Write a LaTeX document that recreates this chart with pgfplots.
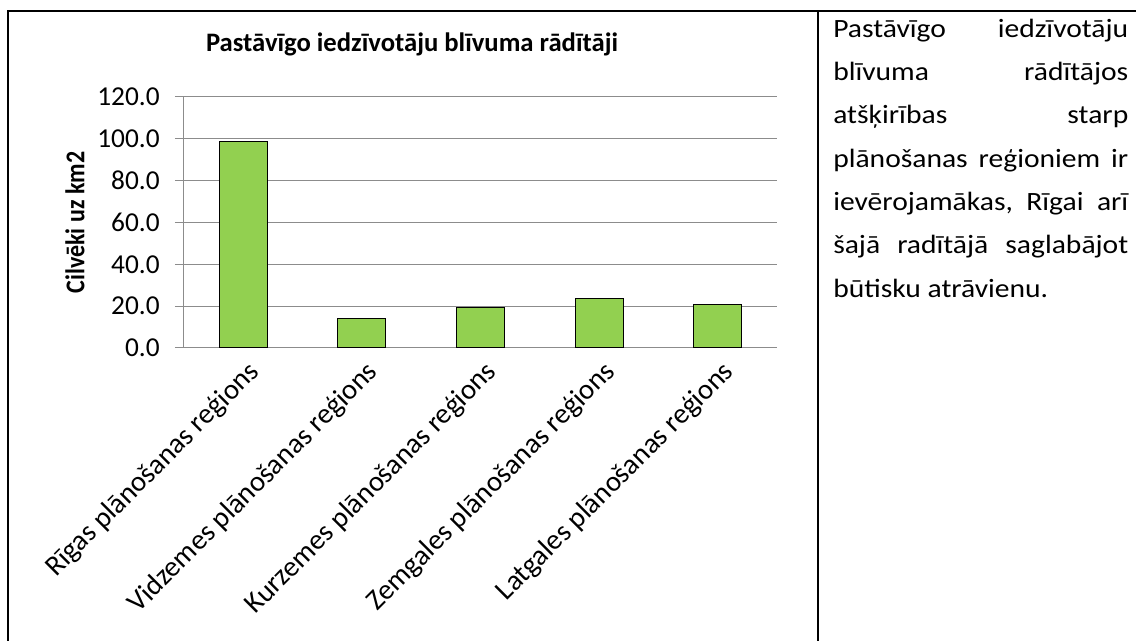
\documentclass[border=0pt]{standalone}
\usepackage{fontspec}
\setmainfont{Carlito}
\usepackage{graphicx}
\usepackage{pgfplots}
\pgfplotsset{compat=1.18}
\definecolor{barg}{HTML}{92D050}
\definecolor{gridg}{HTML}{8C8C8C}
\newcommand\sx[1]{\scalebox{1.12}[1]{#1}}
\begin{document}
\begin{tikzpicture}[x=0.75pt,y=0.75pt]
\path[use as bounding box] (0,0) rectangle (1136,641);
\fill[white] (0,0) rectangle (1136,641);
\draw[line width=1.5pt] (8,0) -- (8,630) -- (1136,630);
\draw[line width=1.5pt] (818,0) -- (818,630);
\begin{axis}[
  at={(138pt,219.75pt)}, anchor=south west,
  scale only axis, width=444.75pt, height=188.25pt,
  xmin=-0.5, xmax=4.5, ymin=0, ymax=120,
  ytick={0,20,...,120},
  xtick={0,1,2,3,4},
  xticklabels={Rīgas plānošanas reģions, Vidzemes plānošanas reģions, Kurzemes plānošanas reģions, Zemgales plānošanas reģions, Latgales plānošanas reģions},
  axis x line*=bottom, axis y line*=left,
  axis line style={gridg, line width=0.75pt, -},
  ymajorgrids, grid style={gridg, line width=0.75pt},
  tick align=outside,
  x tick style={draw=none},
  y tick style={gridg, line width=0.75pt},
  major tick length=6.75pt,
  yticklabel style={font=\fontsize{20.5pt}{24pt}\selectfont, xshift=-8pt, /pgf/number format/.cd, fixed, fixed zerofill, precision=1, assume math mode=true},
  xticklabel style={font=\fontsize{21.5pt}{26pt}\selectfont, rotate=45, anchor=east, xshift=4pt, yshift=-12pt},
  ylabel={\scalebox{1}[1.13]{Cilvēki uz km2}},
  ylabel style={font=\bfseries\fontsize{18pt}{22pt}\selectfont, at={(axis description cs:-0.184,0.5)}, anchor=center},
  title={Pastāvīgo iedzīvotāju blīvuma rādītāji},
  title style={font=\bfseries\fontsize{20pt}{24pt}\selectfont, at={(axis description cs:0.3845,1.151)}, anchor=base},
  ybar, bar width=36pt,
]
\addplot[fill=barg, draw=black, line width=0.75pt] coordinates {(0,98.6) (1,14.1) (2,19.5) (3,23.7) (4,20.7)};
\end{axis}
\begin{scope}[every node/.style={anchor=base west, inner sep=0pt, font=\fontsize{19.8pt}{24pt}\selectfont}]
\node at (833,603) {\hbox to 221.25pt{\sx{Pastāvīgo}\hfill \sx{iedzīvotāju}}};
\node at (833,560) {\hbox to 221.25pt{\sx{blīvuma}\hfill \sx{rādītājos}}};
\node at (833,517) {\hbox to 221.25pt{\sx{atšķirības}\hfill \sx{starp}}};
\node at (833,473) {\hbox to 221.25pt{\sx{plānošanas}\hfill \sx{reģioniem}\hfill \sx{ir}}};
\node at (833,430) {\hbox to 221.25pt{\sx{ievērojamākas,}\hfill \sx{Rīgai}\hfill \sx{arī}}};
\node at (833,387) {\hbox to 221.25pt{\sx{šajā}\hfill \sx{radītājā}\hfill \sx{saglabājot}}};
\node at (833,343) {\sx{būtisku atrāvienu.}};
\end{scope}
\end{tikzpicture}
\end{document}
